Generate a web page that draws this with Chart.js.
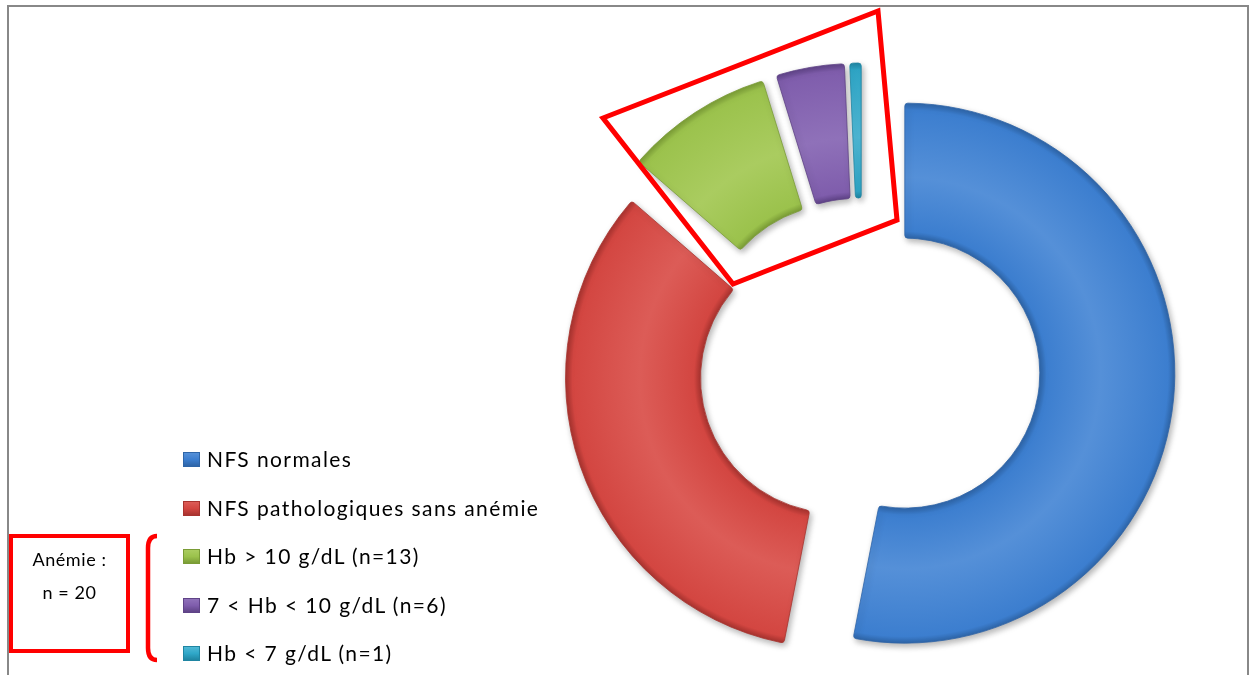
<!DOCTYPE html>
<html>
<head>
<meta charset="utf-8">
<script src="https://cdn.jsdelivr.net/npm/chart.js@4"></script>
<style>
  body { margin: 0; background: #fff; }
  #wrap { position: absolute; left: 0; top: 0; width: 1249px; height: 675px; overflow: hidden; }
  #frame { position: absolute; left: 7px; top: 5px; width: 1242px; height: 720px; box-sizing: border-box; border: 2px solid #888; }
  #chartBox { position: absolute; left: 0; top: 0; width: 1249px; height: 675px; }
  #overlay { position: absolute; left: 0; top: 0; }
  #legend { position: absolute; left: 183px; top: 446px; font-family: Lato, "Liberation Sans", sans-serif; font-size: 21px; color: #000; letter-spacing: 1.4px; }
  #legend .row { height: 48.5px; display: flex; align-items: flex-start; white-space: nowrap; }
  #legend .sw { width: 17px; height: 15px; margin-top: 6px; margin-right: 7px; box-sizing: border-box; }
  #anemie { position: absolute; left: 9px; top: 534px; width: 121px; height: 119px; box-sizing: border-box; border: 4px solid #ff0000;
            font-family: Lato, "Liberation Sans", sans-serif; font-size: 18px; letter-spacing: 0.6px; text-align: center; line-height: 33px; padding-top: 5px; }
</style>
</head>
<body>
<div id="wrap">
  <div id="frame"></div>
  <div id="chartBox"><canvas id="pie"></canvas></div>
  <svg id="overlay" width="1249" height="675">
    <polygon points="603,118 878,11 897,220 733,284" fill="none" stroke="#ff0000" stroke-width="5" stroke-linejoin="miter"/>
    <path d="M157,536 Q148,536 148,548 L148,648 Q148,660 157,660" fill="none" stroke="#ff0000" stroke-width="4.5"/>
  </svg>
  <div id="anemie">Anémie :<br>n = 20</div>
  <div id="legend"></div>
</div>
<script>
(() => {
  'use strict'

  const labels = [
    'NFS normales',
    'NFS pathologiques sans anémie',
    'Hb > 10 g/dL (n=13)',
    '7 < Hb < 10 g/dL (n=6)',
    'Hb < 7 g/dL (n=1)'
  ]
  const values = [78, 49, 13, 6, 1]
  const colors = ['#3c7ecf', '#d34641', '#9bc24c', '#7f5dac', '#2fa7c8']
  const darks = ['#2e65a8', '#a8332f', '#7a9c36', '#5f4387', '#1f85a2']
  const lights = ['#5590d8', '#dc5c57', '#aacc60', '#8f71b9', '#4fb8d5']
  // how far each slice is pulled out, in px
  const explode = [43, 28, 36, 36, 36]

  const OUTER = 270
  const CUT = 0.5

  // legend
  const legend = document.getElementById('legend')
  labels.forEach((l, i) => {
    const row = document.createElement('div')
    row.className = 'row'
    const sw = document.createElement('span')
    sw.className = 'sw'
    sw.style.background = 'linear-gradient(180deg,' + lights[i] + ' 0%,' + colors[i] + ' 50%,' + darks[i] + ' 100%)'
    sw.style.border = '1px solid ' + darks[i]
    const tx = document.createElement('span')
    tx.textContent = l
    row.appendChild(sw)
    row.appendChild(tx)
    legend.appendChild(row)
  })

  const total = values.reduce((a, b) => a + b, 0)
  function midAngle (i) {
    let before = 0
    for (let k = 0; k < i; k++) before += values[k]
    return ((before + values[i] / 2) / total) * 2 * Math.PI - Math.PI / 2
  }

  function fill (context) {
    const i = context.dataIndex
    const chart = context.chart
    const a = chart.chartArea
    if (!a) return colors[i]
    const m = midAngle(i)
    const cx = (a.left + a.right) / 2 + Math.cos(m) * explode[i]
    const cy = (a.top + a.bottom) / 2 + Math.sin(m) * explode[i]
    const g = chart.ctx.createRadialGradient(cx, cy, OUTER * CUT, cx, cy, OUTER)
    g.addColorStop(0, darks[i])
    g.addColorStop(0.05, colors[i])
    g.addColorStop(0.45, lights[i])
    g.addColorStop(0.95, colors[i])
    g.addColorStop(1, darks[i])
    return g
  }

  // pull slices out along their mid angle without growing them
  const explodePlugin = {
    id: 'explode',
    afterDatasetsUpdate (chart) {
      chart.getDatasetMeta(0).data.forEach((arc, i) => {
        const m = (arc.startAngle + arc.endAngle) / 2
        arc.x += Math.cos(m) * explode[i]
        arc.y += Math.sin(m) * explode[i]
      })
    }
  }

  const shadow = {
    id: 'shadow',
    beforeDatasetsDraw (chart) {
      const c = chart.ctx
      c.save()
      c.shadowColor = 'rgba(0,0,0,0.3)'
      c.shadowBlur = 6
      c.shadowOffsetX = 2
      c.shadowOffsetY = 3
    },
    afterDatasetsDraw (chart) {
      chart.ctx.restore()
    }
  }

  // eslint-disable-next-line no-unused-vars
  const pie = new Chart(document.getElementById('pie'), {
    type: 'doughnut',
    data: {
      labels: labels,
      datasets: [{
        data: values,
        backgroundColor: fill,
        borderColor: darks,
        borderWidth: 0.8,
        borderRadius: 3,
        clip: false
      }]
    },
    options: {
      responsive: true,
      maintainAspectRatio: false,
      animation: false,
      radius: OUTER,
      cutout: (CUT * 100) + '%',
      rotation: 0,
      layout: { padding: { left: 482, right: 7, top: 63, bottom: 0 } },
      plugins: {
        legend: { display: false },
        tooltip: { enabled: false }
      }
    },
    plugins: [explodePlugin, shadow]
  })
})()
</script>
</body>
</html>
